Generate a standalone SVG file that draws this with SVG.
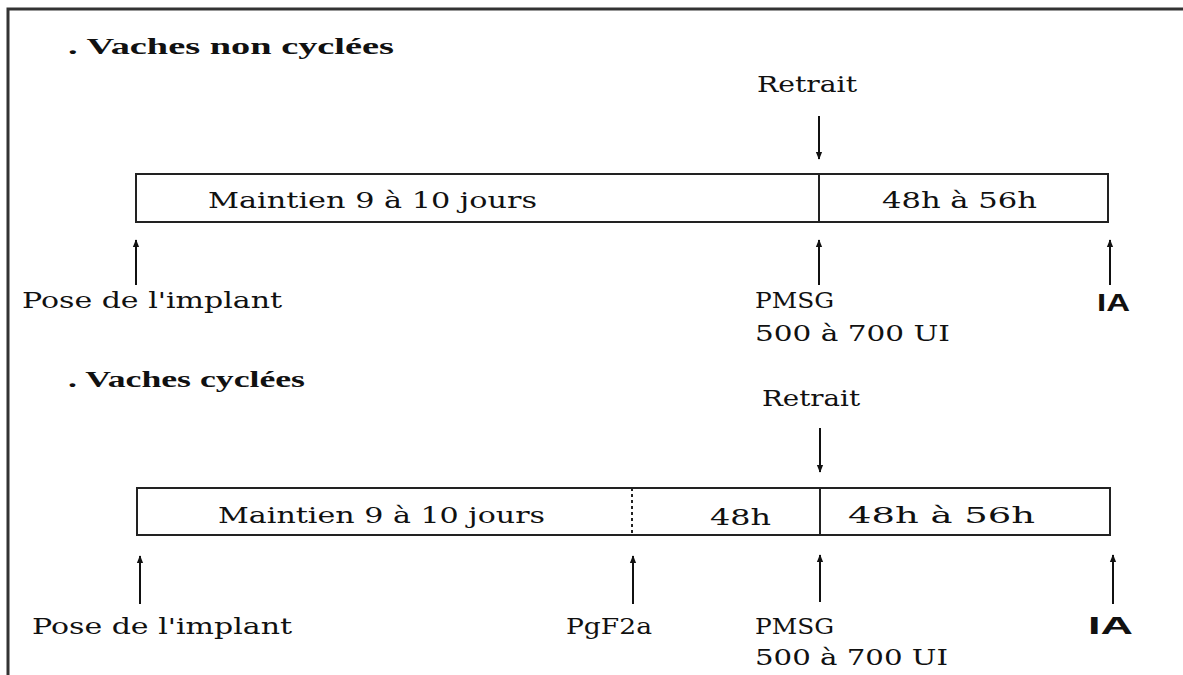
<svg xmlns="http://www.w3.org/2000/svg" width="1183" height="675" viewBox="0 0 1183 675">
<defs>
<style>
.t{font-family:"DejaVu Serif","Liberation Serif",serif;font-size:23px;fill:#111}
.h{font-family:"Liberation Serif",serif;font-size:23px;font-weight:bold;fill:#111}
.b{font-family:"Liberation Sans",sans-serif;font-size:23px;font-weight:bold;fill:#111}
.box{fill:#fff;stroke:#222;stroke-width:2}
.ln{stroke:#222;stroke-width:2;fill:none}
.ar{stroke:#111;stroke-width:2;fill:none;marker-end:url(#ah)}
</style>
<marker id="ah" viewBox="0 0 10 10" refX="9" refY="5" markerWidth="8" markerHeight="8" orient="auto" markerUnits="userSpaceOnUse"><path d="M0,1 L10,5 L0,9 z" fill="#111"/></marker>
</defs>
<rect width="1183" height="675" fill="#fff"/>
<path d="M8,675 V9 H1183" stroke="#333" stroke-width="3" fill="none"/>

<g id="section1">
<text class="h" x="68" y="54" textLength="326" lengthAdjust="spacingAndGlyphs">. Vaches  non  cyclées</text>
<g id="box1">
<rect class="box" x="136" y="174" width="972" height="48"/>
<line class="ln" x1="819" y1="174" x2="819" y2="222"/>
<text class="t" x="208" y="208" textLength="329" lengthAdjust="spacingAndGlyphs">Maintien 9 à 10 jours</text>
<text class="t" x="882" y="208" textLength="155" lengthAdjust="spacingAndGlyphs">48h à 56h</text>
</g>
<g id="retrait1"><text class="t" x="757" y="92" textLength="100" lengthAdjust="spacingAndGlyphs">Retrait</text></g>
<g id="pose1"><text class="t" x="22" y="308" textLength="260" lengthAdjust="spacingAndGlyphs">Pose de l'implant</text></g>
<g id="pmsg1"><text class="t" x="755" y="308" textLength="79" lengthAdjust="spacingAndGlyphs">PMSG</text><text class="t" x="755" y="341" textLength="195" lengthAdjust="spacingAndGlyphs">500 à 700 UI</text></g>
<g id="ia1"><text class="b" x="1097" y="311" textLength="33" lengthAdjust="spacingAndGlyphs">IA</text></g>
</g>

<g id="section2">
<text class="h" x="68" y="387" textLength="237" lengthAdjust="spacingAndGlyphs">. Vaches  cyclées</text>
<g id="box2">
<rect class="box" x="137" y="488" width="973" height="47"/>
<line class="ln" x1="632" y1="488" x2="632" y2="535" stroke-dasharray="3,3"/>
<line class="ln" x1="820" y1="488" x2="820" y2="535"/>
<text class="t" x="218" y="523" textLength="327" lengthAdjust="spacingAndGlyphs">Maintien 9 à 10 jours</text>
<text class="t" x="710" y="525" textLength="61" lengthAdjust="spacingAndGlyphs">48h</text>
<text class="t" x="848" y="523" textLength="187" lengthAdjust="spacingAndGlyphs">48h à 56h</text>
</g>
<g id="retrait2"><text class="t" x="762" y="406" textLength="98" lengthAdjust="spacingAndGlyphs">Retrait</text></g>
<g id="pose2"><text class="t" x="32" y="634" textLength="260" lengthAdjust="spacingAndGlyphs">Pose de l'implant</text></g>
<g id="pgf"><text class="t" x="566" y="634" textLength="86" lengthAdjust="spacingAndGlyphs">PgF2a</text></g>
<g id="pmsg2"><text class="t" x="755" y="634" textLength="79" lengthAdjust="spacingAndGlyphs">PMSG</text><text class="t" x="755" y="665" textLength="193" lengthAdjust="spacingAndGlyphs">500 à 700 UI</text></g>
<g id="ia2"><text class="b" x="1088" y="634" textLength="45" lengthAdjust="spacingAndGlyphs">IA</text></g>
</g>

<g id="connectors">
<line class="ar" x1="819" y1="116" x2="819" y2="159"/>
<line class="ar" x1="136" y1="285" x2="136" y2="240"/>
<line class="ar" x1="819" y1="285" x2="819" y2="240"/>
<line class="ar" x1="1110" y1="285" x2="1110" y2="240"/>
<line class="ar" x1="820" y1="428" x2="820" y2="472"/>
<line class="ar" x1="140" y1="604" x2="140" y2="556"/>
<line class="ar" x1="633" y1="604" x2="633" y2="556"/>
<line class="ar" x1="820" y1="602" x2="820" y2="555"/>
<line class="ar" x1="1113" y1="604" x2="1113" y2="555"/>
</g>
</svg>
